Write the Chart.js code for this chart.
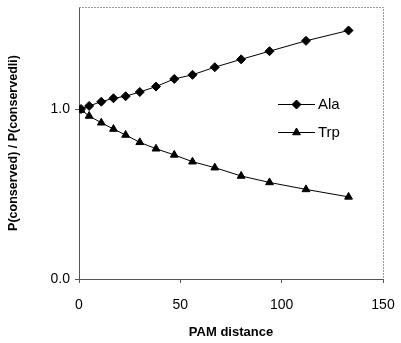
<!DOCTYPE html>
<html>
<head>
<meta charset="utf-8">
<script src="https://cdn.jsdelivr.net/npm/chart.js@4/dist/chart.umd.min.js"></script>
<style>
html,body{margin:0;padding:0;background:#fff;}
#wrap{width:401px;height:343px;position:relative;}
</style>
</head>
<body>
<div id="wrap"><canvas id="c" width="401" height="343"></canvas></div>
<script>
const pamDistance = [1, 5, 11, 17, 23, 30, 38, 47, 56, 67, 80, 94, 112, 133];
const alaRatio = [1.000, 1.018, 1.043, 1.063, 1.075, 1.100, 1.132, 1.177, 1.201, 1.246, 1.292, 1.340, 1.401, 1.462];
const trpRatio = [0.994, 0.959, 0.919, 0.882, 0.847, 0.804, 0.766, 0.730, 0.690, 0.655, 0.606, 0.568, 0.527, 0.483];
const seriesNames = ['Ala', 'Trp'];
const xTicks = [0, 50, 100, 150];
const yTicks = [0, 1];
const xTitle = 'PAM distance';
const yTitle = 'P(conserved) / P(conservedli)';

const FONT = "'Liberation Sans', Arial, Helvetica, sans-serif";

const frame = {
  id: 'frame',
  beforeDatasetsDraw(chart) {
    const {ctx, chartArea: a} = chart;
    ctx.save();
    ctx.strokeStyle = '#9a9a9a';
    ctx.lineWidth = 1;
    ctx.setLineDash([2, 1]);
    ctx.beginPath();
    ctx.moveTo(a.left, a.top + 0.5);
    ctx.lineTo(a.right + 0.5, a.top + 0.5);
    ctx.lineTo(a.right + 0.5, a.bottom);
    ctx.stroke();
    ctx.restore();
  }
};

const legendBox = {
  id: 'legendBox',
  afterDraw(chart) {
    const {ctx} = chart;
    const items = chart.data.datasets;
    ctx.save();
    items.forEach((ds, i) => {
      const y = 104 + i * 28;
      ctx.strokeStyle = '#000';
      ctx.lineWidth = 1;
      ctx.beginPath();
      ctx.moveTo(278, y + 0.5);
      ctx.lineTo(315, y + 0.5);
      ctx.stroke();
      Chart.helpers.drawPoint(ctx, {pointStyle: ds.pointStyle, radius: ds.pointRadius, borderWidth: 1, rotation: 0}, 296.5, y + 0.5);
      ctx.fillStyle = '#000';
      ctx.font = '15px ' + FONT;
      ctx.textBaseline = 'middle';
      ctx.textAlign = 'left';
      ctx.fillText(ds.label, 318, y + 1);
    });
    ctx.restore();
  }
};

new Chart(document.getElementById('c'), {
  type: 'line',
  data: {
    datasets: [
      {
        label: seriesNames[0],
        data: pamDistance.map((x, i) => ({x, y: alaRatio[i]})),
        borderColor: '#000', backgroundColor: '#000', borderWidth: 1,
        pointStyle: 'rectRot', pointRadius: 4.5, pointBorderWidth: 1,
        pointBackgroundColor: '#000', pointBorderColor: '#000', tension: 0
      },
      {
        label: seriesNames[1],
        data: pamDistance.map((x, i) => ({x, y: trpRatio[i]})),
        borderColor: '#000', backgroundColor: '#000', borderWidth: 1,
        pointStyle: 'triangle', pointRadius: 4.5, pointBorderWidth: 1,
        pointBackgroundColor: '#000', pointBorderColor: '#000', tension: 0
      }
    ]
  },
  options: {
    responsive: false,
    animation: false,
    devicePixelRatio: 1,
    layout: {padding: {top: 7, right: 18, left: 0, bottom: 0}},
    plugins: {legend: {display: false}, tooltip: {enabled: false}},
    scales: {
      x: {
        type: 'linear', min: 0, max: 150,
        afterBuildTicks(s) { s.ticks = xTicks.map(v => ({value: v})); },
        afterFit(s) { s.height = 64; s.paddingLeft = 0; s.paddingRight = 0; },
        grid: {drawOnChartArea: false, drawTicks: true, tickLength: 4, color: '#555'},
        border: {display: true, color: '#555', width: 1},
        ticks: {color: '#000', font: {family: FONT, size: 14}, padding: 14, maxRotation: 0},
        title: {display: true, text: xTitle, color: '#000', font: {family: FONT, size: 13, weight: 'bold'}, padding: {top: 6, bottom: 3}}
      },
      y: {
        type: 'linear', min: 0, max: 1.6,
        afterBuildTicks(s) { s.ticks = yTicks.map(v => ({value: v})); },
        afterFit(s) { s.width = 79; s.paddingTop = 0; s.paddingBottom = 0; },
        grid: {drawOnChartArea: false, drawTicks: true, tickLength: 4, color: '#555'},
        border: {display: true, color: '#555', width: 1},
        ticks: {color: '#000', font: {family: FONT, size: 14}, padding: 5, callback: v => Number(v).toFixed(1)},
        title: {display: true, text: yTitle, color: '#000', font: {family: FONT, size: 12.5, weight: 'bold'}, padding: {top: 6, bottom: 0}}
      }
    }
  },
  plugins: [frame, legendBox]
});
</script>
</body>
</html>
